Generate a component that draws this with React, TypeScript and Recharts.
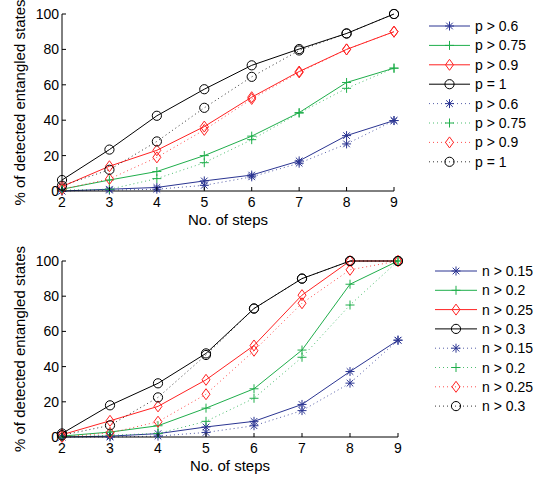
import React from 'react';
import { LineChart, Line, XAxis, YAxis } from 'recharts';

const steps = [2, 3, 4, 5, 6, 7, 8, 9];
const xTicks = [2, 3, 4, 5, 6, 7, 8, 9];
const yTicks = [0, 20, 40, 60, 80, 100];

// top panel
const p06Solid = [0, 1, 2, 5.7, 9, 17, 31.3, 39.8];
const p075Solid = [1, 6.2, 11, 20, 31, 44.3, 61.3, 69.4];
const p09Solid = [2.5, 14, 23, 36.4, 53, 67.5, 80, 90];
const p1Solid = [6.2, 23.4, 42.5, 57.5, 71, 80.2, 89, 100];
const p06Dot = [0, 0.5, 1, 3.2, 8, 15.7, 26.6, 39.8];
const p075Dot = [0.5, 1, 7, 16, 29, 44, 58, 69.4];
const p09Dot = [1, 6.8, 19, 34.5, 52, 67, 80, 90];
const p1Dot = [3, 12, 28, 47, 64.5, 79.4, 89, 100];

// bottom panel
const n015Solid = [0, 0.5, 1.9, 5.7, 8.9, 18.5, 37.2, 55];
const n02Solid = [0.5, 2.8, 6.4, 16.4, 27.4, 49.4, 86.8, 100];
const n025Solid = [1.3, 9.2, 17.4, 32.5, 52, 80.6, 100, 100];
const n03Solid = [2, 18, 30.5, 47.5, 73, 90, 100, 100];
const n015Dot = [0, 0, 0.5, 2.6, 6.4, 15, 30.6, 55];
const n02Dot = [0, 1, 2, 8.9, 22, 45.3, 75, 100];
const n025Dot = [0, 2.3, 8.7, 24.3, 49, 76, 95, 100];
const n03Dot = [1, 6.6, 22.5, 46.6, 73, 90, 100, 100];

const topNames = ['p > 0.6', 'p > 0.75', 'p > 0.9', 'p = 1'];
const bottomNames = ['n > 0.15', 'n > 0.2', 'n > 0.25', 'n > 0.3'];

const BLUE = '#2b3592';
const GREEN = '#1fae4b';
const RED = '#ff2222';
const BLACK = '#000000';
const colors = [BLUE, GREEN, RED, BLACK];
const markers = ['star', 'plus', 'diamond', 'circle'];

const FONT = '"Liberation Sans", Arial, Helvetica, sans-serif';

type Series = { key: string; name: string; values: number[]; color: string; marker: string; dotted: boolean };

function makeSeries(names: string[], solid: number[][], dot: number[][]): Series[] {
  const out: Series[] = [];
  solid.forEach((v, i) => out.push({ key: 's' + i, name: names[i], values: v, color: colors[i], marker: markers[i], dotted: false }));
  dot.forEach((v, i) => out.push({ key: 'd' + i, name: names[i], values: v, color: colors[i], marker: markers[i], dotted: true }));
  return out;
}

const topSeries = makeSeries(topNames, [p06Solid, p075Solid, p09Solid, p1Solid], [p06Dot, p075Dot, p09Dot, p1Dot]);
const bottomSeries = makeSeries(bottomNames, [n015Solid, n02Solid, n025Solid, n03Solid], [n015Dot, n02Dot, n025Dot, n03Dot]);

function buildData(series: Series[]) {
  return steps.map((s, i) => {
    const row: Record<string, number> = { step: s };
    series.forEach((ser) => {
      row[ser.key] = ser.values[i];
    });
    return row;
  });
}

function Marker({ cx, cy, type, color }: { cx: number; cy: number; type: string; color: string }) {
  if (cx == null || cy == null || isNaN(cx) || isNaN(cy)) return null;
  if (type === 'circle') return <circle cx={cx} cy={cy} r={4.6} fill="none" stroke={color} strokeWidth={1} />;
  if (type === 'diamond')
    return (
      <polygon
        points={`${cx},${cy - 5.5} ${cx + 4},${cy} ${cx},${cy + 5.5} ${cx - 4},${cy}`}
        fill="none"
        stroke={color}
        strokeWidth={1}
      />
    );
  if (type === 'plus')
    return (
      <g stroke={color} strokeWidth={1}>
        <line x1={cx - 4.5} y1={cy} x2={cx + 4.5} y2={cy} />
        <line x1={cx} y1={cy - 4.5} x2={cx} y2={cy + 4.5} />
      </g>
    );
  return (
    <g stroke={color} strokeWidth={1}>
      <line x1={cx - 4.5} y1={cy} x2={cx + 4.5} y2={cy} />
      <line x1={cx} y1={cy - 4.5} x2={cx} y2={cy + 4.5} />
      <line x1={cx - 3.3} y1={cy - 3.3} x2={cx + 3.3} y2={cy + 3.3} />
      <line x1={cx - 3.3} y1={cy + 3.3} x2={cx + 3.3} y2={cy - 3.3} />
    </g>
  );
}

const BottomTick = (props: any) => {
  const { x, y, payload } = props;
  return (
    <g>
      <line x1={x} y1={y} x2={x} y2={y - 4} stroke="#000" />
      <text x={x} y={y + 16} textAnchor="middle" fontSize={14} fontFamily={FONT} fill="#000">
        {payload.value}
      </text>
    </g>
  );
};
const TopTick = (props: any) => {
  const { x, y } = props;
  return <line x1={x} y1={y} x2={x} y2={y + 4} stroke="#000" />;
};
const LeftTick = (props: any) => {
  const { x, y, payload } = props;
  return (
    <g>
      <line x1={x} y1={y} x2={x + 4} y2={y} stroke="#000" />
      <text x={x - 3} y={y + 5} textAnchor="end" fontSize={14} fontFamily={FONT} fill="#000">
        {payload.value}
      </text>
    </g>
  );
};
const RightTick = (props: any) => {
  const { x, y } = props;
  return <line x1={x} y1={y} x2={x - 4} y2={y} stroke="#000" />;
};

const xLabel = (props: any) => {
  const vb = props.viewBox || {};
  return (
    <text x={vb.x + vb.width / 2} y={vb.y + 34} textAnchor="middle" fontSize={15} fontFamily={FONT} fill="#000">
      No. of steps
    </text>
  );
};
const yLabel = (props: any) => {
  const vb = props.viewBox || {};
  const cy = vb.y + vb.height / 2;
  return (
    <text
      x={25}
      y={cy}
      transform={`rotate(-90 25 ${cy})`}
      textAnchor="middle"
      fontSize={15}
      fontFamily={FONT}
      fill="#000"
    >
      % of detected entangled states
    </text>
  );
};

function Panel({ series, height, margin }: { series: Series[]; height: number; margin: any }) {
  const data = buildData(series);
  return (
    <LineChart width={537} height={height} data={data} margin={margin}>
      <XAxis
        dataKey="step"
        type="number"
        domain={[2, 9]}
        ticks={xTicks}
        height={30}
        tickSize={0}
        tickMargin={0}
        tickLine={false}
        axisLine={{ stroke: '#000' }}
        tick={BottomTick}
        interval={0}
        label={xLabel}
      />
      <XAxis
        xAxisId="top"
        orientation="top"
        dataKey="step"
        type="number"
        domain={[2, 9]}
        ticks={xTicks}
        height={0}
        tickSize={0}
        tickMargin={0}
        tickLine={false}
        axisLine={{ stroke: '#000' }}
        tick={TopTick}
        interval={0}
      />
      <YAxis
        type="number"
        domain={[0, 100]}
        ticks={yTicks}
        width={62}
        tickSize={0}
        tickMargin={0}
        tickLine={false}
        axisLine={{ stroke: '#000' }}
        tick={LeftTick}
        interval={0}
        label={yLabel}
      />
      <YAxis
        yAxisId="right"
        orientation="right"
        type="number"
        domain={[0, 100]}
        ticks={yTicks}
        width={0}
        tickSize={0}
        tickMargin={0}
        tickLine={false}
        axisLine={{ stroke: '#000' }}
        tick={RightTick}
        interval={0}
      />
      {series.map((s) => (
        <Line
          key={s.key}
          dataKey={s.key}
          name={s.name}
          type="linear"
          stroke={s.color}
          strokeWidth={1}
          strokeDasharray={s.dotted ? '1 3' : undefined}
          strokeOpacity={s.dotted ? 0.8 : 1}
          isAnimationActive={false}
          dot={(p: any) => <Marker key={s.key + '-' + p.index} cx={p.cx} cy={p.cy} type={s.marker} color={s.color} />}
          activeDot={false}
        />
      ))}
    </LineChart>
  );
}

function LegendBox({ series, top, step, lineX1, lineX2, textX }: { series: Series[]; top: number; step: number; lineX1: number; lineX2: number; textX: number }) {
  const mx = (lineX1 + lineX2) / 2;
  return (
    <g>
      {series.map((s, i) => {
        const y = top + i * step;
        return (
          <g key={s.key}>
            <line
              x1={lineX1}
              y1={y}
              x2={lineX2}
              y2={y}
              stroke={s.color}
              strokeWidth={1}
              strokeDasharray={s.dotted ? '1 3' : undefined}
              strokeOpacity={s.dotted ? 0.8 : 1}
            />
            <Marker cx={mx} cy={y} type={s.marker} color={s.color} />
            <text x={textX} y={y + 5} fontSize={14} fontFamily={FONT} fill="#000">
              {s.name}
            </text>
          </g>
        );
      })}
    </g>
  );
}

export default function App() {
  return (
    <div style={{ position: 'absolute', left: 0, top: 0, width: 537, height: 479, background: '#fff', overflow: 'hidden' }}>
      <div style={{ position: 'absolute', left: 0, top: 0 }}>
        <Panel series={topSeries} height={240} margin={{ top: 14, right: 143, bottom: 19, left: 0 }} />
      </div>
      <div style={{ position: 'absolute', left: 0, top: 240 }}>
        <Panel series={bottomSeries} height={239} margin={{ top: 21, right: 139, bottom: 12, left: 0 }} />
      </div>
      <svg width={537} height={479} style={{ position: 'absolute', left: 0, top: 0, pointerEvents: 'none' }}>
        <LegendBox series={topSeries} top={26} step={19.4} lineX1={429} lineX2={470} textX={475} />
        <LegendBox series={bottomSeries} top={271} step={19.3} lineX1={435} lineX2={477} textX={482} />
      </svg>
    </div>
  );
}
